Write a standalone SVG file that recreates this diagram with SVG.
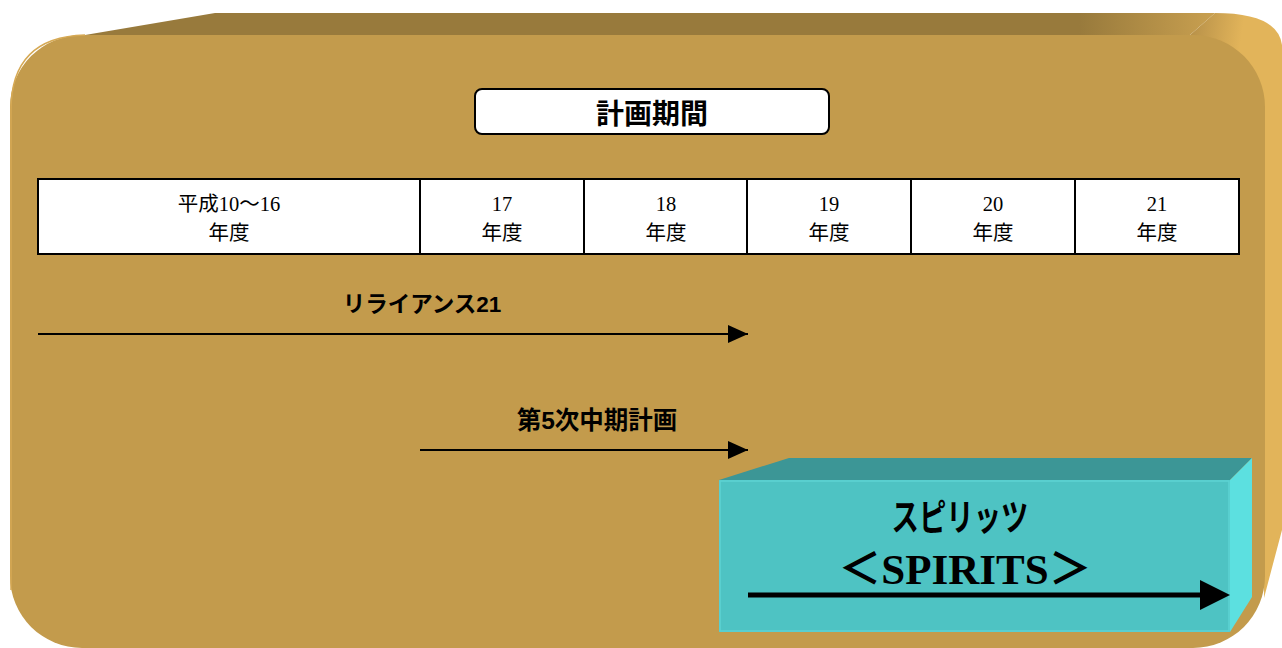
<svg xmlns="http://www.w3.org/2000/svg" width="1282" height="648" viewBox="0 0 1282 648">
  <defs>
    <style>
      .cell { fill: #ffffff; stroke: #000000; stroke-width: 2; }
      .yr { font-family: "Liberation Serif", "Noto Sans CJK JP", serif; font-size: 20.5px; fill: #000; text-anchor: middle; }
      .lbl { font-family: "Liberation Sans", "Noto Sans CJK JP", sans-serif; font-weight: bold; fill: #000; text-anchor: middle; }
      .conn { stroke: #000; stroke-width: 2; fill: none; }
    </style>
    <marker id="ah" markerWidth="20" markerHeight="18" refX="20" refY="9" orient="auto" markerUnits="userSpaceOnUse" viewBox="0 0 20 18">
      <path d="M0,0 L20,9 L0,18 Z" fill="#000"/>
    </marker>
    <linearGradient id="topg" x1="0" y1="0" x2="1" y2="0">
      <stop offset="0.88" stop-color="#987A3C"/>
      <stop offset="1" stop-color="#C9A050"/>
    </linearGradient>
    <linearGradient id="sideg" x1="0" y1="0" x2="1" y2="1">
      <stop offset="0" stop-color="#B58F48"/>
      <stop offset="0.3" stop-color="#E2B45A"/>
    </linearGradient>
  </defs>

  <g id="background">
    <!-- side face -->
    <path d="M1190,35 L1215,13 Q1278,13 1282,45 L1282,530 L1264,598 L1264,100 Z" fill="url(#sideg)"/>
    <!-- top face -->
    <path d="M85,35 L215,13 L1215,13 L1190,35 Z" fill="url(#topg)"/>
    <!-- front face -->
    <rect x="10" y="35" width="1255" height="613" rx="72" ry="72" fill="#C39B4C"/>
    <path d="M11,590 L11,110 Q11,37 85,35" fill="none" stroke="#D6A954" stroke-width="1.5"/>
  </g>

  <g id="title">
    <rect x="475" y="89" width="354" height="45" rx="7" ry="7" fill="#ffffff" stroke="#000" stroke-width="2"/>
    <text class="lbl" x="652" y="124" font-size="28">計画期間</text>
  </g>

  <g id="table">
    <rect class="cell" x="38" y="179" width="382" height="75"/>
    <rect class="cell" x="420" y="179" width="164" height="75"/>
    <rect class="cell" x="584" y="179" width="163" height="75"/>
    <rect class="cell" x="747" y="179" width="164" height="75"/>
    <rect class="cell" x="911" y="179" width="164" height="75"/>
    <rect class="cell" x="1075" y="179" width="164" height="75"/>
    <text class="yr" x="229" y="211">平成10～16</text>
    <text class="yr" x="229" y="240">年度</text>
    <text class="yr" x="502" y="211">17</text>
    <text class="yr" x="502" y="240">年度</text>
    <text class="yr" x="666" y="211">18</text>
    <text class="yr" x="666" y="240">年度</text>
    <text class="yr" x="829" y="211">19</text>
    <text class="yr" x="829" y="240">年度</text>
    <text class="yr" x="993" y="211">20</text>
    <text class="yr" x="993" y="240">年度</text>
    <text class="yr" x="1157" y="211">21</text>
    <text class="yr" x="1157" y="240">年度</text>
  </g>

  <g id="label-reliance">
    <text class="lbl" x="422" y="312" font-size="22.5">リライアンス21</text>
  </g>
  <g id="label-plan5">
    <text class="lbl" x="597" y="429" font-size="24.5">第5次中期計画</text>
  </g>

  <g id="spirits">
    <path d="M719,480 L789,458 L1252,458 L1230,480 Z" fill="#3C9696"/>
    <path d="M1230,480 L1252,458 L1252,597 L1230,632 Z" fill="#5CE0E0"/>
    <rect x="719" y="480" width="511" height="152" fill="#4EC3C3"/>
    <rect x="720" y="481" width="509" height="150" fill="none" stroke="#5DD3D3" stroke-width="1.5"/>
    <text class="lbl" x="0" y="531" font-size="37" transform="translate(960 0) scale(0.74 1)">スピリッツ</text>
    <text x="965" y="584" font-family="'Liberation Serif', 'Noto Sans CJK JP', serif" font-weight="bold" font-size="43" text-anchor="middle" fill="#000">＜SPIRITS＞</text>
  </g>

  <g id="connectors">
    <line class="conn" x1="38" y1="334" x2="748" y2="334" marker-end="url(#ah)"/>
    <line class="conn" x1="420" y1="450" x2="748" y2="450" marker-end="url(#ah)"/>
    <line x1="748" y1="595" x2="1205" y2="595" stroke="#000" stroke-width="5"/>
    <path d="M1200,580 L1230,595 L1200,610 Z" fill="#000"/>
  </g>
</svg>
